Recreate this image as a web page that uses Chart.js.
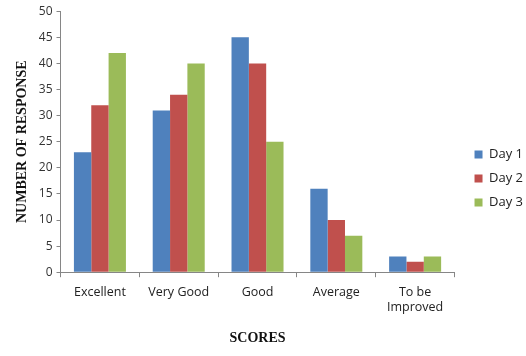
<!DOCTYPE html>
<html>
<head>
<meta charset="utf-8">
<script src="https://cdn.jsdelivr.net/npm/chart.js@4"></script>
<style>
html,body{margin:0;padding:0;background:#fff;}
#wrap{width:526px;height:356px;}
</style>
</head>
<body>
<div id="wrap"><canvas id="c" width="526" height="356"></canvas></div>
<script>
const categories = ["Excellent", "Very Good", "Good", "Average", ["To be", "Improved"]];
const day1 = [23, 31, 45, 16, 3];
const day2 = [32, 34, 40, 10, 2];
const day3 = [42, 40, 25, 7, 3];
const seriesNames = ["Day 1", "Day 2", "Day 3"];
const colors = ["#4f81bd", "#c0504d", "#9bbb59"];

const axisColor = "#868686";
const sans = "'Open Sans', 'Liberation Sans', sans-serif";
const titleFont = {family: "'Liberation Serif', 'Times New Roman', serif", size: 14, weight: "bold"};

const legendShift = {
  id: "legendShift",
  afterLayout(chart) {
    const l = chart.legend;
    if (!l) return;
    l.left += 9; l.right += 9;
    l.top += 3; l.bottom += 3;
  }
};

new Chart(document.getElementById("c"), {
  type: "bar",
  data: {
    labels: categories,
    datasets: [day1, day2, day3].map((d, i) => ({
      label: seriesNames[i],
      data: d,
      backgroundColor: colors[i],
      borderWidth: 0,
      barPercentage: 1.0,
      categoryPercentage: 0.66
    }))
  },
  options: {
    responsive: false,
    animation: false,
    devicePixelRatio: 1,
    layout: {padding: {left: 14, right: 2, top: 4, bottom: 9}},
    plugins: {
      legend: {
        position: "right",
        align: "center",
        labels: {
          boxWidth: 8, boxHeight: 8,
          padding: 11,
          color: "#222",
          font: {family: sans, size: 13}
        }
      },
      tooltip: {enabled: false}
    },
    scales: {
      x: {
        grid: {display: true, drawOnChartArea: false, color: axisColor, tickLength: 5, offset: true},
        border: {color: axisColor},
        ticks: {color: "#222", font: {family: sans, size: 12.5}, padding: 8, maxRotation: 0},
        title: {display: true, text: "SCORES", color: "#111", font: titleFont, padding: {top: 7, bottom: 0}}
      },
      y: {
        min: 0, max: 50,
        grid: {display: true, drawOnChartArea: false, color: axisColor, tickLength: 4},
        border: {color: axisColor},
        ticks: {stepSize: 5, color: "#333", font: {family: sans, size: 12}, padding: 4},
        title: {display: true, text: "NUMBER OF RESPONSE", color: "#111", font: titleFont, padding: {top: 0, bottom: 4}}
      }
    }
  },
  plugins: [legendShift]
});
</script>
</body>
</html>
